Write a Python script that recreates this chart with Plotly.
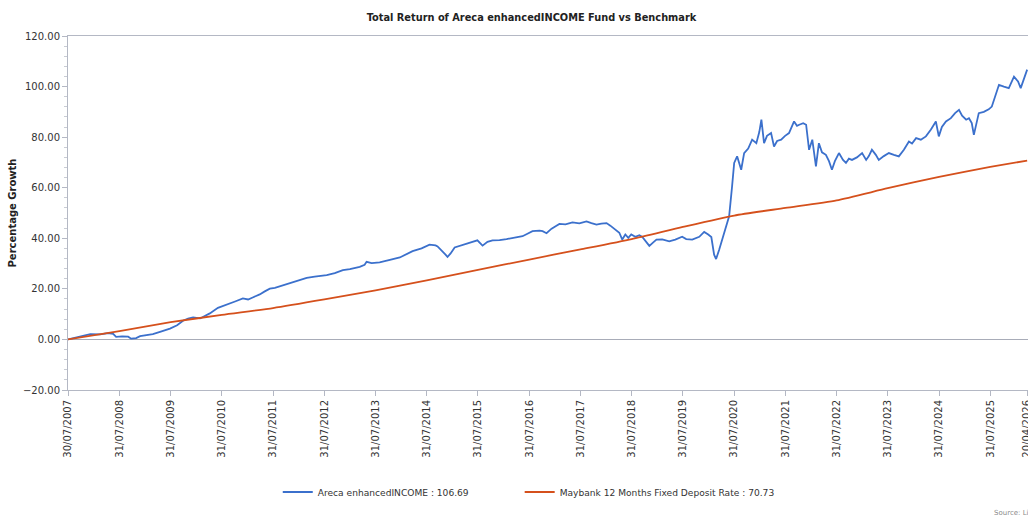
import plotly.graph_objects as go

# ---- Data ----
fund_name = "Areca enhancedINCOME : 106.69"
bench_name = "Maybank 12 Months Fixed Deposit Rate : 70.73"

fund_dates = [
    "2007-07-30", "2007-10-25", "2008-01-05", "2008-03-15", "2008-05-11", "2008-06-16",
    "2008-07-07", "2008-08-19", "2008-10-01", "2008-10-22", "2008-11-27", "2008-12-25",
    "2009-02-14", "2009-03-26", "2009-05-16", "2009-07-26", "2009-09-15", "2009-10-27",
    "2009-12-02", "2010-01-07", "2010-02-26", "2010-04-01", "2010-05-06", "2010-07-03",
    "2010-09-06", "2010-11-02", "2010-12-28", "2011-02-03", "2011-03-08", "2011-04-27",
    "2011-06-02", "2011-07-08", "2011-08-13", "2011-09-18", "2011-11-07", "2011-12-19",
    "2012-02-08", "2012-03-27", "2012-05-23", "2012-08-17", "2012-10-13", "2012-12-10",
    "2013-01-29", "2013-04-09", "2013-05-14", "2013-05-28", "2013-07-03", "2013-08-29",
    "2013-11-10", "2014-01-20", "2014-04-21", "2014-06-24", "2014-08-20", "2014-10-02",
    "2014-10-16", "2014-11-14", "2014-12-12", "2014-12-26", "2015-01-17", "2015-02-15",
    "2015-03-21", "2015-05-10", "2015-06-15", "2015-07-27", "2015-09-02", "2015-10-07",
    "2015-11-12", "2016-01-01", "2016-02-20", "2016-04-17", "2016-06-13", "2016-07-18",
    "2016-08-23", "2016-10-12", "2016-11-03", "2016-12-01", "2017-01-06", "2017-02-04",
    "2017-03-03", "2017-04-15", "2017-06-04", "2017-07-23", "2017-09-12", "2017-10-17",
    "2017-11-22", "2017-12-27", "2018-02-02", "2018-03-01", "2018-03-15", "2018-04-12",
    "2018-05-04", "2018-05-25", "2018-06-16", "2018-07-07", "2018-07-28", "2018-08-26",
    "2018-09-24", "2018-10-15", "2018-11-13", "2018-12-04", "2019-01-03", "2019-01-24",
    "2019-03-06", "2019-04-25", "2019-06-07", "2019-07-26", "2019-08-24", "2019-10-06",
    "2019-11-25", "2019-12-30", "2020-01-28", "2020-02-19", "2020-03-10", "2020-03-24",
    "2020-04-15", "2020-05-06", "2020-05-20", "2020-06-11", "2020-06-25", "2020-07-16",
    "2020-07-31", "2020-08-21", "2020-09-19", "2020-10-10", "2020-11-08", "2020-12-06",
    "2021-01-05", "2021-01-26", "2021-02-10", "2021-03-01", "2021-03-22", "2021-04-20",
    "2021-05-11", "2021-06-02", "2021-07-01", "2021-07-29", "2021-08-26", "2021-10-01",
    "2021-10-22", "2021-11-07", "2021-12-05", "2021-12-26", "2022-01-16", "2022-02-08",
    "2022-03-06", "2022-03-27", "2022-04-18", "2022-05-16", "2022-06-07", "2022-06-28",
    "2022-07-19", "2022-08-17", "2022-09-15", "2022-10-06", "2022-10-27", "2022-11-18",
    "2022-12-23", "2023-01-29", "2023-02-27", "2023-03-18", "2023-04-09", "2023-05-07",
    "2023-05-28", "2023-07-03", "2023-08-08", "2023-09-13", "2023-10-18", "2023-11-23",
    "2023-12-29", "2024-01-20", "2024-02-18", "2024-03-23", "2024-04-28", "2024-06-03",
    "2024-07-08", "2024-07-29", "2024-08-20", "2024-09-18", "2024-10-23", "2024-11-22",
    "2024-12-20", "2025-01-11", "2025-02-09", "2025-03-01", "2025-03-21", "2025-04-05",
    "2025-04-26", "2025-05-10", "2025-06-15", "2025-07-20", "2025-08-11", "2025-08-25",
    "2025-09-16", "2025-10-01", "2025-11-05", "2025-12-10", "2026-01-16", "2026-02-14",
    "2026-03-05", "2026-03-26", "2026-04-20",
]
fund_values = [
    0.0, 1.0, 2.1, 2.0, 2.5, 2.2,
    1.0, 1.2, 1.1, 0.3, 0.5, 1.3,
    1.6, 2.1, 3.0, 4.3, 5.6, 7.4,
    8.2, 8.7, 8.3, 9.2, 10.3, 12.5,
    14.0, 15.0, 16.2, 15.8, 16.6, 17.8,
    19.0, 20.1, 20.4, 21.0, 21.8, 22.8,
    23.6, 24.3, 24.8, 25.4, 26.2, 27.4,
    27.8, 28.7, 29.5, 30.7, 30.2, 30.5,
    31.5, 32.4, 34.9, 36.0, 37.5, 37.2,
    36.8, 35.3, 33.5, 32.6, 34.0, 36.4,
    37.0, 37.9, 38.4, 39.2, 37.1, 38.6,
    39.2, 39.3, 39.7, 40.2, 40.8, 41.8,
    42.8, 43.0, 42.8, 42.0, 43.8, 44.8,
    45.7, 45.5, 46.3, 45.9, 46.7, 46.0,
    45.4, 45.8, 46.0, 45.0, 44.4, 43.5,
    42.2, 39.5, 41.5, 40.2, 41.5, 40.6,
    41.2, 40.5, 38.3, 37.0, 38.5, 39.5,
    39.6, 38.8, 39.5, 40.6, 39.7, 39.5,
    40.6, 42.5, 41.5, 40.5, 33.5, 31.8,
    35.5, 39.5, 42.1, 46.7, 48.7, 60.5,
    69.8, 72.4, 67.1, 73.7, 75.5, 79.0,
    77.6, 82.0, 86.9, 77.6, 80.5, 81.6,
    76.3, 78.5, 79.0, 80.5, 81.6, 86.2,
    84.5, 84.9, 85.5, 84.9, 75.0, 79.0,
    68.4, 77.6, 74.0, 73.0, 70.5, 67.1,
    70.5, 73.7, 71.0, 69.8, 71.5, 71.0,
    72.0, 73.7, 71.0, 72.5, 75.0, 73.0,
    71.0, 72.5, 73.7, 73.0, 72.4, 75.0,
    78.3, 77.5, 79.6, 79.0, 80.3, 83.0,
    86.2, 80.3, 84.0, 86.2, 87.5, 89.5,
    90.8, 88.5, 86.9, 87.5, 85.6, 80.9,
    86.0, 89.5, 90.0, 91.0, 92.1, 94.7,
    98.0, 100.7, 100.0, 99.4, 103.9, 102.0,
    99.4, 103.0, 106.69,
]

bench_dates = [
    "2007-07-30", "2008-07-31", "2009-07-31", "2010-07-31", "2011-07-31", "2012-07-31",
    "2013-07-31", "2014-07-31", "2015-07-31", "2016-07-31", "2017-07-31", "2018-07-31",
    "2019-07-31", "2020-07-31", "2021-07-31", "2022-07-31", "2023-07-31", "2024-07-31",
    "2025-07-31", "2026-04-20",
]
bench_values = [
    0.0, 3.3, 6.8, 9.7, 12.4, 15.8,
    19.4, 23.4, 27.5, 31.6, 35.6, 39.7,
    44.5, 49.0, 52.0, 55.0, 59.8, 64.3,
    68.2, 70.73,
]

tick_dates = [
    "2007-07-30", "2008-07-31", "2009-07-31", "2010-07-31", "2011-07-31", "2012-07-31",
    "2013-07-31", "2014-07-31", "2015-07-31", "2016-07-31", "2017-07-31", "2018-07-31",
    "2019-07-31", "2020-07-31", "2021-07-31", "2022-07-31", "2023-07-31", "2024-07-31",
    "2025-07-31", "2026-04-20",
]
tick_labels = [
    "30/07/2007", "31/07/2008", "31/07/2009", "31/07/2010", "31/07/2011", "31/07/2012",
    "31/07/2013", "31/07/2014", "31/07/2015", "31/07/2016", "31/07/2017", "31/07/2018",
    "31/07/2019", "31/07/2020", "31/07/2021", "31/07/2022", "31/07/2023", "31/07/2024",
    "31/07/2025", "20/04/2026",
]

FONT = "DejaVu Sans"
AXIS_COL = "#b4b8c4"
W, H = 1028, 517
PLOT_LEFT, PLOT_TOP, PLOT_BOTTOM = 68, 36, 390
PLOT_W = W - PLOT_LEFT

fig = go.Figure()
fig.add_trace(go.Scatter(
    x=fund_dates, y=fund_values, mode="lines", name=fund_name,
    line=dict(color="#3b70cc", width=1.8), legend="legend",
))
fig.add_trace(go.Scatter(
    x=bench_dates, y=bench_values, mode="lines", name=bench_name,
    line=dict(color="#d5501c", width=1.8, shape="spline", smoothing=0.6),
    legend="legend2",
))

legend_style = dict(
    orientation="h", xanchor="left",
    yref="container", y=1 - 492 / H, yanchor="middle",
    font=dict(family=FONT, size=9.1, color="#333333"),
    itemwidth=30, bgcolor="rgba(0,0,0,0)",
)

fig.update_layout(
    width=W, height=H,
    margin=dict(l=PLOT_LEFT, r=0, t=PLOT_TOP, b=H - PLOT_BOTTOM, autoexpand=False),
    paper_bgcolor="white", plot_bgcolor="white",
    font=dict(family=FONT, size=10, color="#333333"),
    title=dict(
        text="<b>Total Return of Areca enhancedINCOME Fund vs Benchmark</b>",
        x=0.517, xanchor="center", yref="container", y=1 - 18 / H, yanchor="middle",
        font=dict(family=FONT, size=9.8, color="#222222"),
    ),
    showlegend=True,
    legend=dict(x=0.2185, **legend_style),
    legend2=dict(x=0.4705, **legend_style),
    xaxis=dict(
        type="date",
        range=["2007-07-30", "2026-04-26"],
        tickvals=tick_dates, ticktext=tick_labels, tickangle=-90,
        ticklabeloverflow="allow",
        showgrid=False, zeroline=False,
        showline=True, linecolor=AXIS_COL, linewidth=1, mirror=True,
        ticks="outside", ticklen=5, tickcolor=AXIS_COL,
        tickfont=dict(family=FONT, size=10, color="#333333"),
        automargin=False,
    ),
    yaxis=dict(
        range=[-20, 120], dtick=20, tick0=0, tickformat=".2f",
        showgrid=False,
        zeroline=True, zerolinecolor="#a8acb8", zerolinewidth=1,
        showline=True, linecolor=AXIS_COL, linewidth=1,
        ticks="outside", ticklen=5, tickcolor=AXIS_COL,
        minor=dict(dtick=4, ticks="outside", ticklen=3, tickcolor="#c8ccd4", showgrid=False),
        title=dict(text="<b>Percentage Growth</b>", standoff=4,
                   font=dict(family=FONT, size=10, color="#222222")),
        tickfont=dict(family=FONT, size=10, color="#333333"),
        automargin=False,
    ),
)

fig.add_annotation(
    text="Source: Lipper", xref="paper", yref="paper",
    x=(992 - PLOT_LEFT) / PLOT_W, y=(PLOT_BOTTOM - 513) / (PLOT_BOTTOM - PLOT_TOP),
    xanchor="left", yanchor="middle", showarrow=False,
    font=dict(family=FONT, size=7, color="#8a8a8a"),
)

fig.write_html(
    "out.html",
    config={"displayModeBar": False},
    post_script="document.body.style.margin='0';document.body.style.overflow='hidden';",
)
